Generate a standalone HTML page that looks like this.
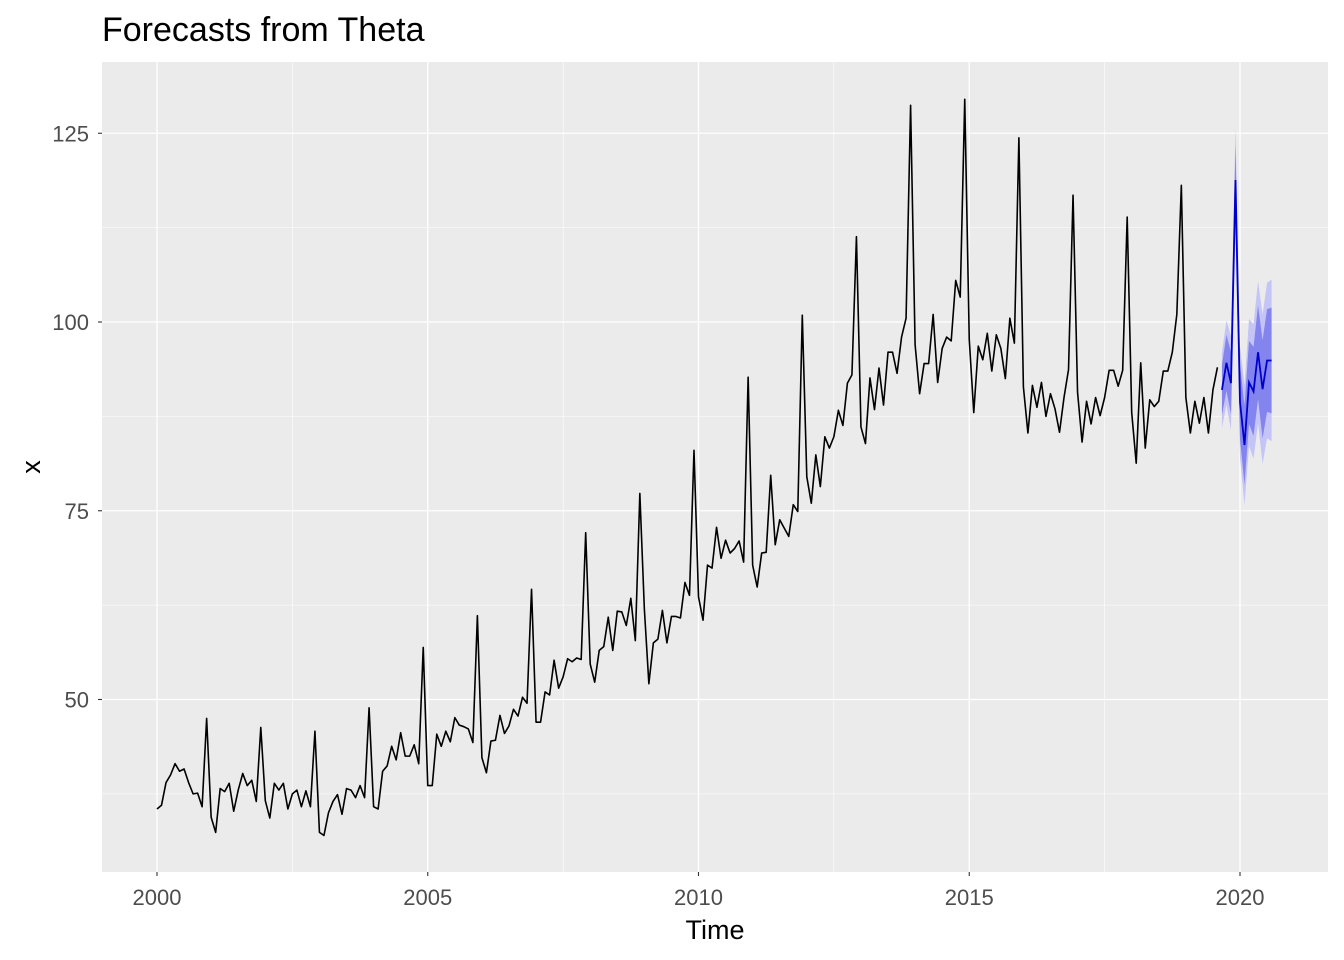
<!DOCTYPE html>
<html><head><meta charset="utf-8"><style>
html,body{margin:0;padding:0;background:#fff;}
svg{display:block;font-family:"Liberation Sans",Arial,sans-serif;}
</style></head><body>
<svg id="chart" width="1344" height="960" viewBox="0 0 1344 960">
<rect x="0" y="0" width="1344" height="960" fill="#fff"/>
<rect x="102" y="62" width="1226" height="810" fill="#EBEBEB"/>
<g id="grid"></g>
<g id="bands"></g>
<g id="lines"></g>
<g id="axes"></g>
<text x="102" y="41" font-size="34" fill="#000">Forecasts from Theta</text>
<text x="715" y="939" font-size="27" fill="#000" text-anchor="middle">Time</text>
<text x="40" y="467" font-size="27" fill="#000" text-anchor="middle" transform="rotate(-90 40 467)">x</text>
</svg>
<script>
const startYear = 2000;
const yearsData = [
[35.5,36,39,40,41.5,40.5,40.8,39,37.5,37.6,35.8,47.5],
[34.4,32.4,38.2,37.8,38.9,35.2,38,40.2,38.6,39.3,36.5,46.3],
[36.6,34.3,38.9,38,38.9,35.5,37.5,38,35.8,37.9,35.8,45.8],
[32.4,32,35,36.5,37.4,34.8,38.2,38,37,38.6,37,48.9],
[35.8,35.5,40.5,41.2,43.8,42,45.6,42.5,42.5,44,41.5,56.9],
[38.6,38.6,45.4,43.8,45.8,44.4,47.6,46.6,46.4,46.1,44.3,61.1],
[42.3,40.3,44.5,44.6,47.9,45.5,46.5,48.7,47.8,50.3,49.5,64.6],
[47,47,51,50.6,55.2,51.5,53,55.4,55,55.5,55.3,72.1],
[54.7,52.3,56.5,57,60.9,56.5,61.7,61.6,59.8,63.4,57.8,77.3],
[62,52.1,57.5,58,61.8,57.5,61,61,60.8,65.5,63.8,83],
[63.6,60.5,67.8,67.4,72.8,68.7,71.1,69.4,70,71,68.2,92.7],
[67.8,64.9,69.4,69.5,79.7,70.5,73.8,72.7,71.6,75.8,74.9,100.9],
[79.5,76,82.4,78.2,84.8,83.3,84.8,88.3,86.3,91.9,93,111.3],
[86.1,83.9,92.6,88.4,93.9,89,96,96,93.2,98,100.5,128.7],
[97,90.5,94.5,94.5,101,92,96.5,98,97.5,105.5,103.3,129.5],
[97.7,88,96.8,95,98.5,93.5,98.3,96.5,92.5,100.5,97.2,124.4],
[91.4,85.3,91.6,88.7,92,87.5,90.5,88.5,85.4,90,93.7,116.8],
[90.7,84.1,89.5,86.5,90,87.6,90,93.6,93.6,91.5,93.6,113.9],
[88,81.3,94.6,83.3,89.7,88.8,89.5,93.5,93.5,96,101,118.1],
[90,85.3,89.5,86.6,90,85.3,91,94]
];
const fcStart = 2019 + 8/12;
const fcMean = [91.0,94.6,91.9,118.8,89.4,83.7,92.0,90.8,96.0,91.1,94.9,94.9];
const hw80 = [3.3,3.7,4.1,4.6,4.9,5.2,5.5,5.9,6.2,6.5,6.8,7.0];
const hw95 = [5.0,5.6,6.2,7.0,7.4,7.9,8.4,8.9,9.4,9.9,10.3,10.7];
const yTicks = [50,75,100,125];
const yMinor = [37.5,62.5,87.5,112.5];
const xTicks = [2000,2005,2010,2015,2020];
const xMinor = [2002.5,2007.5,2012.5,2017.5];

const NS = "http://www.w3.org/2000/svg";
const X = t => 157 + (t - 2000) * 54.15;
const Y = v => 322 - (v - 100) * 7.55;
const P = {l:102, r:1328, t:62, b:872};
function mk(tag, attrs, parent){ const e=document.createElementNS(NS,tag); for(const k in attrs) e.setAttribute(k,attrs[k]); parent.appendChild(e); return e; }

const grid = document.getElementById('grid');
yMinor.forEach(v=>{ const e=mk('line',{x1:P.l,x2:P.r,y1:Y(v),y2:Y(v),stroke:'#fff','stroke-width':0.6},grid);

 });
xMinor.forEach(v=>{ const e=mk('line',{x1:X(v),x2:X(v),y1:P.t,y2:P.b,stroke:'#fff','stroke-width':0.6},grid);

 });
yTicks.forEach(v=>{ const e=mk('line',{x1:P.l,x2:P.r,y1:Y(v),y2:Y(v),stroke:'#fff','stroke-width':1.3},grid);

 });
xTicks.forEach(v=>{ const e=mk('line',{x1:X(v),x2:X(v),y1:P.t,y2:P.b,stroke:'#fff','stroke-width':1.3},grid);

 });

const axes = document.getElementById('axes');
yTicks.forEach(v=>{
 const t=mk('line',{x1:P.l-4,x2:P.l,y1:Y(v),y2:Y(v),stroke:'#333','stroke-width':1.1},axes);
 
 
 const l=mk('text',{x:P.l-13,y:Y(v)+8,'font-size':22,fill:'#4D4D4D','text-anchor':'end'},axes); l.textContent=v;
 
 
});
xTicks.forEach(v=>{
 const t=mk('line',{x1:X(v),x2:X(v),y1:P.b,y2:P.b+4,stroke:'#333','stroke-width':1.1},axes);
 
 
 const l=mk('text',{x:X(v),y:P.b+33,'font-size':22,fill:'#4D4D4D','text-anchor':'middle'},axes); l.textContent=v;
 
 
});

const pts=[]; yearsData.forEach((row,yi)=>row.forEach((v,m)=>pts.push([X(startYear+yi+m/12),Y(v)])));
const hl=mk('polyline',{points:pts.map(p=>p.join(',')).join(' '),fill:'none',stroke:'#000','stroke-width':1.6,'stroke-linejoin':'round'},document.getElementById('lines'));



const bands=document.getElementById('bands');
function band(hw,color,name){
 const up=fcMean.map((v,i)=>[X(fcStart+i/12),Y(v+hw[i])]);
 const lo=fcMean.map((v,i)=>[X(fcStart+i/12),Y(v-hw[i])]).reverse();
 const e=mk('polygon',{points:up.concat(lo).map(p=>p.join(',')).join(' '),fill:color},bands);
 
 
}
band(hw95,'#C4C4F6','interval-95');
band(hw80,'#8484EE','interval-80');
const fl=mk('polyline',{points:fcMean.map((v,i)=>[X(fcStart+i/12),Y(v)].join(',')).join(' '),fill:'none',stroke:'#0000CC','stroke-width':1.8},document.getElementById('lines'));


</script>
</body></html>
